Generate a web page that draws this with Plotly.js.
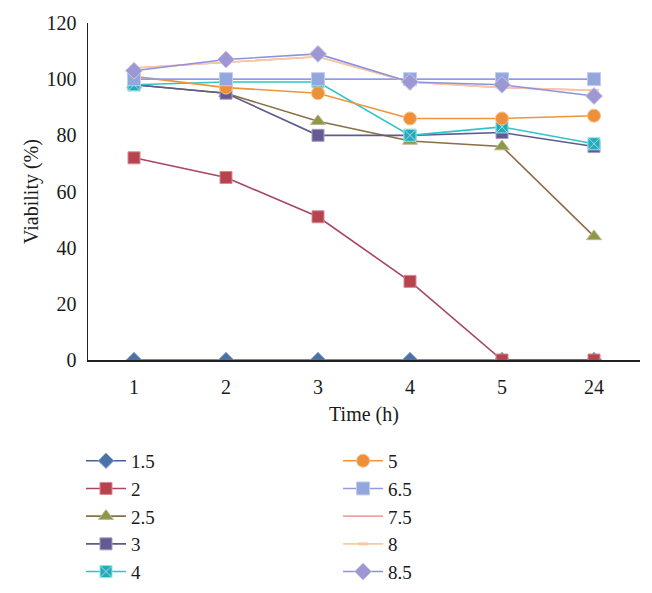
<!DOCTYPE html>
<html>
<head>
<meta charset="utf-8">
<script src="https://cdn.plot.ly/plotly-3.0.1.min.js"></script>
<style>html,body{margin:0;padding:0;background:#fff;}#chart{width:652px;height:593px;}</style>
</head>
<body>
<div id="chart"></div>
<script>
const times = ["1", "2", "3", "4", "5", "24"];
const seriesNames = ["1.5", "2", "2.5", "3", "4", "5", "6.5", "7.5", "8", "8.5"];
const v1_5 = [0, 0, 0, 0, 0, 0];
const v2 = [72, 65, 51, 28, 0, 0];
const v2_5 = [98, 95, 85, 78, 76, 44];
const v3 = [98, 95, 80, 80, 81, 76];
const v4 = [98, 99, 99, 80, 83, 77];
const v5 = [101, 97, 95, 86, 86, 87];
const v6_5 = [100, 100, 100, 100, 100, 100];
const v7_5 = [104, 106, 108, 99, 97, 96];
const v8 = [104, 106, 108, 99, 97, 96];
const v8_5 = [103, 107, 109, 99, 98, 94];
const seriesValues = [v1_5, v2, v2_5, v3, v4, v5, v6_5, v7_5, v8, v8_5];

const styles = [
  {line: '#4a5f98', marker: '#4a72a8', mline: '#8fa6cc', symbol: 'diamond', size: 12},
  {line: '#a8456a', marker: '#b5444e', mline: '#d88a90', symbol: 'square', size: 12},
  {line: '#8c6e44', marker: '#8b9a4a', mline: '#c4b48a', symbol: 'triangle-up', size: 13},
  {line: '#5d5a8e', marker: '#665a93', mline: '#a49cc4', symbol: 'square', size: 12},
  {line: '#30c4c8', marker: '#2aa8b8', mline: '#8ee4ea', symbol: 'square-x', size: 12},
  {line: '#f0943c', marker: '#ee9038', mline: '#f6c08e', symbol: 'circle', size: 13},
  {line: '#8f9ce8', marker: '#94a6de', mline: '#c2ccf0', symbol: 'square', size: 13},
  {line: '#f4a0a0', marker: '#f4a0a0', mline: '#f4a0a0', symbol: 'circle', size: 0},
  {line: '#f7caa2', marker: '#f7caa2', mline: '#f4c090', symbol: 'line-ew-open', size: 7},
  {line: '#9090e0', marker: '#9d98d4', mline: '#c8c4ea', symbol: 'diamond', size: 13}
];

const traces = seriesNames.map((name, i) => {
  const s = styles[i];
  return {
    x: times,
    y: seriesValues[i],
    name: name,
    type: 'scatter',
    mode: s.size > 0 ? 'lines+markers' : 'lines',
    line: {color: s.line, width: 1.6},
    marker: {symbol: s.symbol, size: s.size, color: s.marker, line: {color: s.mline, width: s.symbol === 'line-ew-open' ? 3 : 1}},
    legend: i < 5 ? 'legend' : 'legend2'
  };
});

const font = {family: '"Liberation Serif", "Times New Roman", serif', size: 20, color: '#1a1a1a'};
const legendFont = {family: font.family, size: 19, color: '#1a1a1a'};

const legendCommon = {
  font: legendFont,
  bgcolor: 'rgba(0,0,0,0)',
  orientation: 'v',
  xanchor: 'left',
  yanchor: 'top',
  tracegroupgap: 0,
  itemwidth: 40
};

const layout = {
  width: 652,
  height: 593,
  margin: {l: 88, r: 12, t: 23, b: 233, autoexpand: false},
  paper_bgcolor: '#fff',
  plot_bgcolor: '#fff',
  font: font,
  showlegend: true,
  xaxis: {
    type: 'category',
    range: [-0.5, 5.5],
    showline: true,
    linecolor: '#222',
    linewidth: 1.5,
    showgrid: false,
    zeroline: false,
    ticks: 'outside',
    ticklen: 8,
    tickcolor: 'rgba(0,0,0,0)',
    tickfont: font,
    title: {text: 'Time (h)', font: font, standoff: 10}
  },
  yaxis: {
    range: [0, 120],
    dtick: 20,
    showline: true,
    linecolor: '#222',
    linewidth: 1.5,
    showgrid: false,
    zeroline: false,
    ticks: 'outside',
    ticklen: 6,
    tickcolor: 'rgba(0,0,0,0)',
    tickfont: font,
    title: {text: 'Viability (%)', font: font}
  },
  legend: Object.assign({}, legendCommon, {x: -0.0127, y: -0.243}),
  legend2: Object.assign({}, legendCommon, {x: 0.453, y: -0.243})
};

Plotly.newPlot('chart', traces, layout, {displayModeBar: false, staticPlot: true});
</script>
</body>
</html>
